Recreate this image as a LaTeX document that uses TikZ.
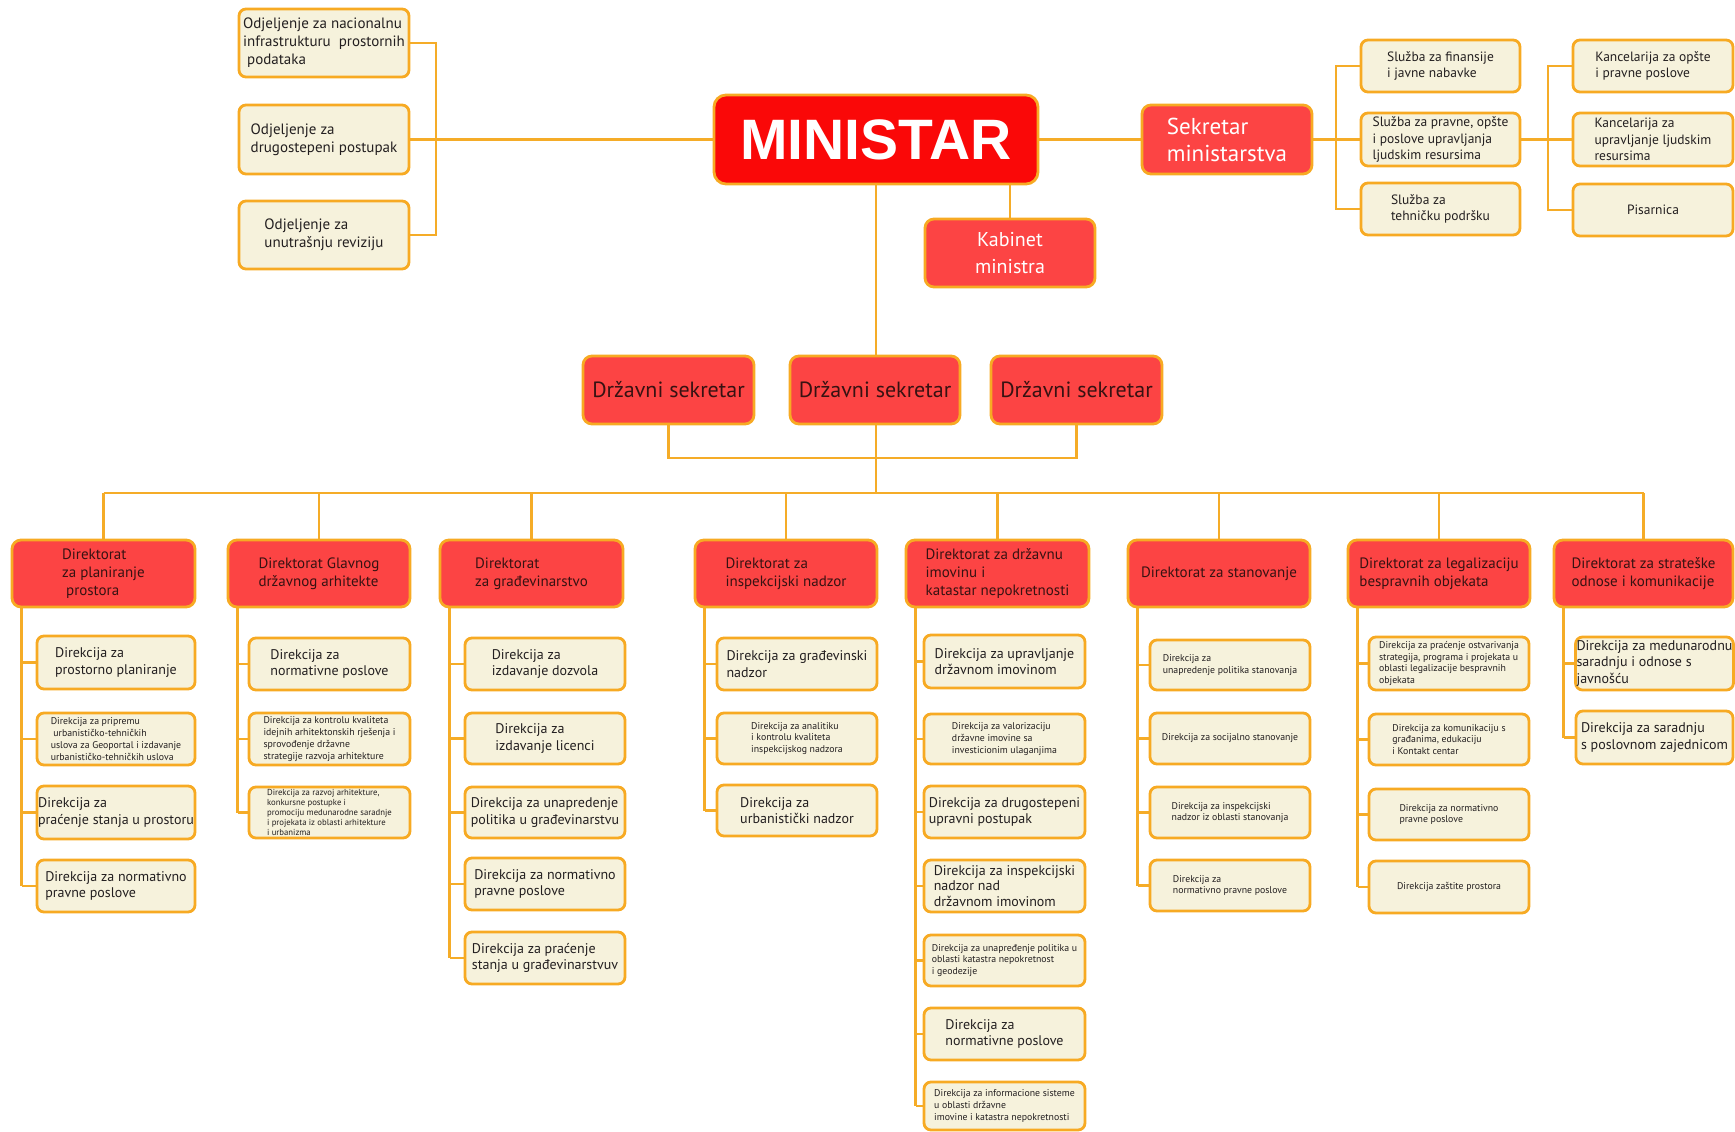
\documentclass[tikz,border=0pt]{standalone}
\usepackage{fontspec}
\setmainfont{PT Sans}
\newfontfamily\minfont{Liberation Sans}
\usetikzlibrary{calc,backgrounds}
\definecolor{boxor}{RGB}{247,170,35}
\definecolor{lineor}{RGB}{245,172,40}
\definecolor{cream}{RGB}{246,242,220}
\definecolor{redf}{RGB}{252,68,68}
\definecolor{minred}{RGB}{250,8,8}
\definecolor{txt}{RGB}{35,31,32}
\definecolor{dtxt}{RGB}{55,18,18}
\newcommand\ob[7]{\node[#6, minimum width={(#4-#2)*1pt}, minimum height={(#5-#3)*1pt}] (#1) at ({(#2+#4)/2},{(#3+#5)/2}) {#7};}
\tikzset{
  conn/.style={draw=lineor, line width=2.6pt},
  cbox/.style={draw=boxor, line width=2.8pt, fill=cream, rounded corners=7pt, text=txt, align=left, inner sep=1pt},
  rbox/.style={draw=boxor, line width=2.8pt, fill=redf, rounded corners=9pt, align=left, inner sep=1pt},
  fA/.style={font=\fontsize{15}{18}\selectfont},
  fB/.style={font=\fontsize{14}{16.5}\selectfont},
  fBt/.style={font=\fontsize{14}{15.2}\selectfont},
  fS/.style={font=\fontsize{13.5}{16.5}\selectfont},
  fC/.style={font=\fontsize{9.8}{11.8}\selectfont},
  fD/.style={font=\fontsize{8.7}{9.9}\selectfont},
  fDir/.style={font=\fontsize{15}{18}\selectfont, text=dtxt},
}
\begin{document}
\begin{tikzpicture}[x=1pt,y=-1pt]
\useasboundingbox (0,0) rectangle (1735,1132);
% top level
\ob{o1}{239}{9}{409}{77}{cbox,fA}{Odjeljenje za nacionalnu\\infrastrukturu\ \ prostornih\\\ podataka}
\ob{o2}{239}{105}{409}{174}{cbox,fA}{Odjeljenje za\\drugostepeni postupak}
\ob{o3}{239}{201}{409}{269}{cbox,fA}{Odjeljenje za\\unutrašnju reviziju}
\ob{min}{714}{95}{1038}{184}{rbox,fill=minred,rounded corners=12pt,text=white,font=\minfont\bfseries\fontsize{57}{60}\selectfont}{MINISTAR}
\ob{sek}{1142}{105}{1312}{174}{rbox,text=white,font=\fontsize{23}{27}\selectfont}{Sekretar\\ministarstva}
\ob{s1}{1361}{40}{1520}{92}{cbox,fS}{Služba za finansije\\i javne nabavke}
\ob{s2}{1361}{113}{1520}{166}{cbox,fS}{Služba za pravne, opšte\\i poslove upravljanja\\ljudskim resursima}
\ob{s3}{1361}{183}{1520}{235}{cbox,fS}{Služba za\\tehničku podršku}
\ob{k1}{1573}{40}{1733}{92}{cbox,fS}{Kancelarija za opšte\\i pravne poslove}
\ob{k2}{1573}{113}{1733}{166}{cbox,fS}{Kancelarija za\\upravljanje ljudskim\\resursima}
\ob{k3}{1573}{184}{1733}{236}{cbox,fS}{Pisarnica}
\ob{kab}{925}{219}{1095}{287}{rbox,text=white,align=center,font=\fontsize{20}{27}\selectfont}{Kabinet\\ministra}
\ob{ds1}{583}{356}{754}{424}{rbox,text=dtxt,font=\fontsize{22}{26}\selectfont}{Državni sekretar}
\ob{ds2}{790}{356}{960}{424}{rbox,text=dtxt,font=\fontsize{22}{26}\selectfont}{Državni sekretar}
\ob{ds3}{991}{356}{1162}{424}{rbox,text=dtxt,font=\fontsize{22}{26}\selectfont}{Državni sekretar}
% direktorati
\ob{d1}{12}{540}{195}{607}{rbox,fDir}{Direktorat\\za planiranje\\\ prostora}
\ob{d2}{228}{540}{410}{607}{rbox,fDir}{Direktorat Glavnog\\državnog arhitekte}
\ob{d3}{440}{540}{623}{607}{rbox,fDir}{Direktorat\\za građevinarstvo}
\ob{d4}{695}{540}{877}{607}{rbox,fDir}{Direktorat za\\inspekcijski nadzor}
\ob{d5}{906}{540}{1089}{607}{rbox,fDir}{Direktorat za državnu\\imovinu i\\katastar nepokretnosti}
\ob{d6}{1128}{540}{1310}{607}{rbox,fDir}{Direktorat za stanovanje}
\ob{d7}{1348}{540}{1530}{607}{rbox,fDir}{Direktorat za legalizaciju\\bespravnih objekata}
\ob{d8}{1554}{540}{1733}{607}{rbox,fDir}{Direktorat za strateške\\odnose i komunikacije}
% column 1
\ob{c1a}{37}{636}{195}{689}{cbox,fB}{Direkcija za\\prostorno planiranje}
\ob{c1b}{37}{713}{195}{765}{cbox,fC}{Direkcija za pripremu\\\ urbanističko-tehničkih\\uslova za Geoportal i izdavanje\\urbanističko-tehničkih uslova}
\ob{c1c}{37}{786}{195}{839}{cbox,fB}{Direkcija za\\praćenje stanja u prostoru}
\ob{c1d}{37}{860}{195}{912}{cbox,fB}{Direkcija za normativno\\pravne poslove}
% column 2
\ob{c2a}{249}{638}{410}{690}{cbox,fB}{Direkcija za\\normativne poslove}
\ob{c2b}{249}{713}{410}{765}{cbox,fC}{Direkcija za kontrolu kvaliteta\\idejnih arhitektonskih rješenja i\\sprovođenje državne\\strategije razvoja arhitekture}
\ob{c2c}{249}{787}{410}{838}{cbox,fD}{Direkcija za razvoj arhitekture,\\konkursne postupke i\\promociju medunarodne saradnje\\i projekata iz oblasti arhitekture\\i urbanizma}
% column 3
\ob{c3a}{465}{638}{625}{690}{cbox,fB}{Direkcija za\\izdavanje dozvola}
\ob{c3b}{465}{713}{625}{764}{cbox,fB}{Direkcija za\\izdavanje licenci}
\ob{c3c}{465}{787}{625}{838}{cbox,fB}{Direkcija za unapredenje\\politika u građevinarstvu}
\ob{c3d}{465}{858}{625}{910}{cbox,fB}{Direkcija za normativno\\pravne poslove}
\ob{c3e}{465}{932}{625}{984}{cbox,fB}{Direkcija za praćenje\\stanja u građevinarstvuv}
% column 4
\ob{c4a}{717}{638}{877}{690}{cbox,fB}{Direkcija za građevinski\\nadzor}
\ob{c4b}{717}{713}{877}{764}{cbox,fC}{Direkcija za analitiku\\i kontrolu kvaliteta\\inspekcijskog nadzora}
\ob{c4c}{717}{785}{877}{836}{cbox,fB}{Direkcija za\\urbanistički nadzor}
% column 5
\ob{c5a}{924}{635}{1085}{688}{cbox,fB}{Direkcija za upravljanje\\državnom imovinom}
\ob{c5b}{924}{714}{1085}{764}{cbox,fC}{Direkcija za valorizaciju\\državne imovine sa\\investicionim ulaganjima}
\ob{c5c}{924}{786}{1085}{838}{cbox,fB}{Direkcija za drugostepeni\\upravni postupak}
\ob{c5d}{924}{860}{1085}{912}{cbox,fBt}{Direkcija za inspekcijski\\nadzor nad\\državnom imovinom}
\ob{c5e}{924}{935}{1085}{986}{cbox,fC}{Direkcija za unapređenje politika u\\oblasti katastra nepokretnost\\i geodezije}
\ob{c5f}{924}{1008}{1085}{1060}{cbox,fB}{Direkcija za\\normativne poslove}
\ob{c5g}{924}{1082}{1085}{1130}{cbox,fC}{Direkcija za informacione sisteme\\u oblasti državne\\imovine i katastra nepokretnosti}
% column 6
\ob{c6a}{1150}{640}{1310}{690}{cbox,fC}{Direkcija za\\unapredenje politika stanovanja}
\ob{c6b}{1150}{713}{1310}{764}{cbox,fC}{Direkcija za socijalno stanovanje}
\ob{c6c}{1150}{787}{1310}{838}{cbox,fC}{Direkcija za inspekcijski\\nadzor iz oblasti stanovanja}
\ob{c6d}{1150}{860}{1310}{911}{cbox,fC}{Direkcija za\\normativno pravne poslove}
% column 7
\ob{c7a}{1369}{637}{1529}{690}{cbox,fC}{Direkcija za praćenje ostvarivanja\\strategija, programa i projekata u\\oblasti legalizacije bespravnih\\objekata}
\ob{c7b}{1369}{714}{1529}{765}{cbox,fC}{Direkcija za komunikaciju s\\građanima, edukaciju\\i Kontakt centar}
\ob{c7c}{1369}{789}{1529}{840}{cbox,fC}{Direkcija za normativno\\pravne poslove}
\ob{c7d}{1369}{861}{1529}{913}{cbox,fC}{Direkcija zaštite prostora}
% column 8
\ob{c8a}{1576}{637}{1733}{690}{cbox,fB}{Direkcija za medunarodnu\\saradnju i odnose s\\javnošću}
\ob{c8b}{1576}{711}{1733}{764}{cbox,fB}{Direkcija za saradnju\\s poslovnom zajednicom}
% connectors
\begin{scope}[on background layer]
\fill[white] (0,0) rectangle (1735,1132);
\coordinate (lb) at (436,0);
\coordinate (rb1) at (1336,0);
\coordinate (rb2) at (1548,0);
\coordinate (bus) at (876,493);
\coordinate (dsb) at (0,458);
\draw[conn] (o1.east) -- (o1.east -| lb) -- (o3.east -| lb) -- (o3.east);
\draw[conn] (o2.east) -- (min.west);
\draw[conn] (min.east) -- (sek.west);
\draw[conn] (s1.west) -- (s1.west -| rb1) -- (s3.west -| rb1) -- (s3.west);
\draw[conn] (sek.east) -- (s2.west);
\draw[conn] (k1.west) -- (k1.west -| rb2) -- (k3.west -| rb2) -- (k3.west);
\draw[conn] (s2.east) -- (k2.west);
\draw[conn] (min.south -| kab.north) -- (kab.north);
\draw[conn] (min.south) -- (bus);
\draw[conn] (ds1.south) -- (ds1.south |- dsb) -- (ds3.south |- dsb) -- (ds3.south);
\draw[conn] (d1.north |- bus) -- (d8.north |- bus);
\foreach \d in {d1,d2,d3,d4,d5,d6,d7,d8}{
  \draw[conn] (\d.north) -- (\d.north |- bus);
}
\foreach \d/\last/\kids in {d1/c1d/{c1a,c1b,c1c,c1d}, d2/c2c/{c2a,c2b,c2c}, d3/c3e/{c3a,c3b,c3c,c3d,c3e}, d4/c4c/{c4a,c4b,c4c}, d5/c5g/{c5a,c5b,c5c,c5d,c5e,c5f,c5g}, d6/c6d/{c6a,c6b,c6c,c6d}, d7/c7d/{c7a,c7b,c7c,c7d}, d8/c8b/{c8a,c8b}}{
  \coordinate (sp) at ($(\d.south west)+(11,0)$);
  \draw[conn] (sp) -- (sp |- \last.west);
  \foreach \k in \kids {
    \draw[conn] (sp |- \k.west) -- (\k.west);
  }
}
\end{scope}
\end{tikzpicture}
\end{document}
